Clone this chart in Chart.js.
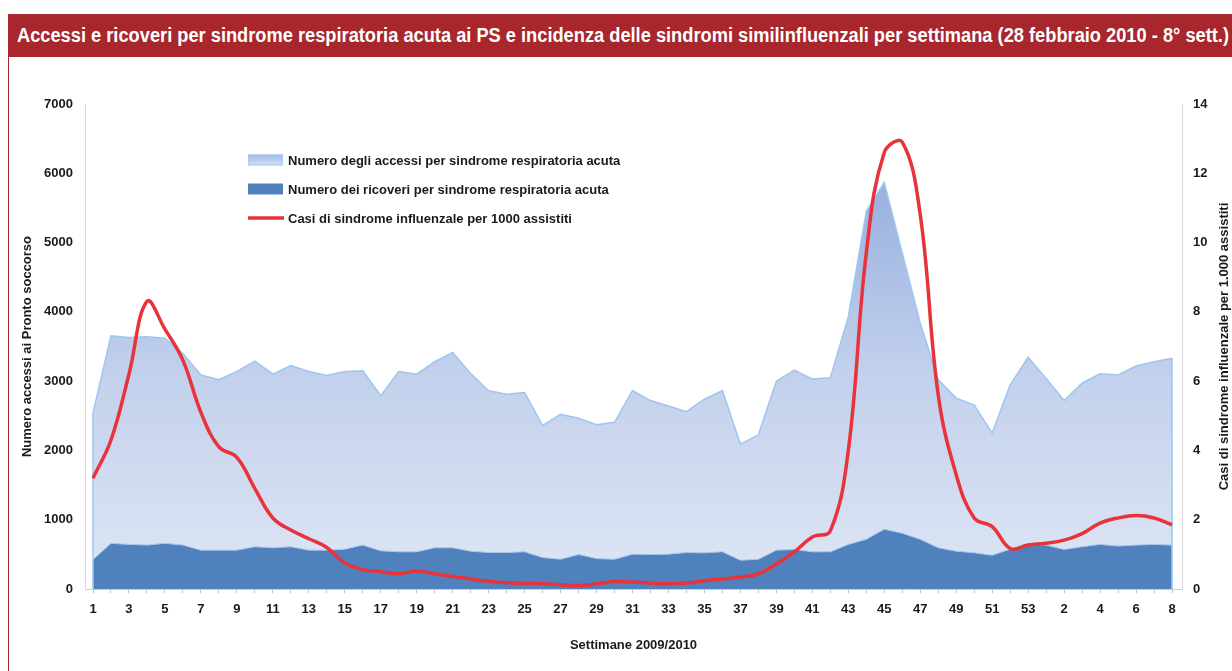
<!DOCTYPE html>
<html lang="it">
<head>
<meta charset="utf-8">
<title>Accessi e ricoveri per sindrome respiratoria acuta</title>
<script src="https://cdn.jsdelivr.net/npm/chart.js@4.4.1/dist/chart.umd.min.js"></script>
<style>
    html, body { margin: 0; padding: 0; background: #fff; }
    body { width: 1232px; height: 671px; position: relative; overflow: hidden; font-family: "Liberation Sans", Arial, sans-serif; }
    #titleBar { position: absolute; left: 8px; top: 14px; width: 1224px; height: 43px; background: #a8272d; overflow: hidden; }
    #titleBar span { position: absolute; left: 9px; top: 10px; white-space: nowrap; color: #fff; font: bold 20px "Liberation Sans Narrow", "Arial Narrow", "Liberation Sans", sans-serif; transform-origin: 0 0; }
    #frame { position: absolute; left: 8px; top: 57px; width: 1px; height: 614px; background: #a8272d; }
    #chartBox { position: absolute; left: 0; top: 57px; }
</style>
</head>
<body>
<div id="titleBar"><span>Accessi e ricoveri per sindrome respiratoria acuta ai PS e incidenza delle sindromi similinfluenzali per settimana (28 febbraio 2010 - 8° sett.)</span></div>
<div id="frame"></div>
<div id="chartBox"><canvas id="chart" width="1232" height="614"></canvas></div>
<script>
// settimane 2009 (1-53) e 2010 (1-8)
const weeks = [1, 2, 3, 4, 5, 6, 7, 8, 9, 10, 11, 12, 13, 14, 15, 16, 17, 18, 19, 20,
    21, 22, 23, 24, 25, 26, 27, 28, 29, 30, 31, 32, 33, 34, 35, 36, 37, 38, 39, 40,
    41, 42, 43, 44, 45, 46, 47, 48, 49, 50, 51, 52, 53, 1, 2, 3, 4, 5, 6, 7, 8];

const accessi = [2540, 3655, 3630, 3640, 3620, 3400, 3090, 3020, 3140, 3290,
    3100, 3225, 3140, 3080, 3140, 3150, 2790, 3140, 3100, 3280,
    3415, 3110, 2860, 2810, 2835, 2360, 2520, 2465, 2370, 2405,
    2865, 2720, 2640, 2560, 2740, 2865, 2090, 2225, 3000, 3160,
    3030, 3050, 3930, 5450, 5870, 4850, 3835, 3020, 2755, 2655,
    2250, 2945, 3345, 3040, 2720, 2970, 3105, 3090, 3220, 3280, 3330];

const ricoveri = [424, 659, 644, 634, 659, 634, 561, 561, 561, 610,
    595, 610, 561, 561, 575, 634, 551, 537, 537, 595,
    595, 546, 527, 527, 537, 454, 429, 498, 439, 429,
    502, 498, 502, 527, 522, 537, 415, 429, 561, 571,
    537, 537, 644, 717, 863, 805, 717, 595, 546, 522,
    488, 575, 644, 634, 571, 610, 644, 620, 634, 644, 634];

const casi = [3.2, 4.3, 6.2, 8.3, 7.5, 6.6, 5.1, 4.1, 3.8, 2.9,
    2.05, 1.7, 1.45, 1.2, 0.75, 0.56, 0.5, 0.44, 0.52, 0.44,
    0.36, 0.29, 0.22, 0.18, 0.16, 0.15, 0.12, 0.1, 0.15, 0.22,
    0.2, 0.17, 0.15, 0.17, 0.24, 0.29, 0.34, 0.44, 0.72, 1.07,
    1.5, 1.68, 4.0, 9.7, 12.6, 12.9, 10.8, 5.6, 3.3, 2.05,
    1.8, 1.17, 1.27, 1.32, 1.41, 1.6, 1.9, 2.05, 2.12, 2.05, 1.85];

const leftTicks = [0, 1000, 2000, 3000, 4000, 5000, 6000, 7000];
const rightTicks = [0, 2, 4, 6, 8, 10, 12, 14];

const LABELS = {
    accessi: 'Numero degli accessi per sindrome respiratoria acuta',
    ricoveri: 'Numero dei ricoveri per sindrome respiratoria acuta',
    casi: 'Casi di sindrome influenzale per 1000 assistiti'
};

// fit the narrow title into the bar
const titleSpan = document.querySelector('#titleBar span');
const tw = titleSpan.getBoundingClientRect().width;
if (tw > 0) titleSpan.style.transform = `scaleX(${1212 / tw})`;

const toXY = arr => arr.map((v, i) => ({ x: i, y: v }));

function accessiFill(ctx) {
    const { chart } = ctx;
    const area = chart.chartArea;
    if (!area) return '#c3d1ec';
    const g = chart.ctx.createLinearGradient(0, area.top, 0, area.bottom);
    g.addColorStop(0, '#86a3d9');
    g.addColorStop(0.55, '#c2d0ec');
    g.addColorStop(1, '#dfe7f5');
    return g;
}

// Excel draws the area outline down both ends; Chart.js doesn't
const areaEdges = {
    id: 'areaEdges',
    beforeDatasetDraw(chart, args) {
        if (args.index !== 1) return; // after accessi, before ricoveri
        const { x, y } = chart.scales;
        const ctx = chart.ctx;
        const last = accessi.length - 1;
        ctx.save();
        ctx.strokeStyle = '#9dc6f2';
        ctx.lineWidth = 1.5;
        ctx.beginPath();
        ctx.moveTo(x.getPixelForValue(0), y.getPixelForValue(0));
        ctx.lineTo(x.getPixelForValue(0), y.getPixelForValue(accessi[0]));
        ctx.moveTo(x.getPixelForValue(last), y.getPixelForValue(0));
        ctx.lineTo(x.getPixelForValue(last), y.getPixelForValue(accessi[last]));
        ctx.stroke();
        ctx.restore();
    }
};

// legend drawn inside the plot, like the original
const innerLegend = {
    id: 'innerLegend',
    afterDraw(chart) {
        const ctx = chart.ctx;
        const x = 248, rows = [103, 132, 161];
        ctx.save();
        // accessi swatch
        let g = ctx.createLinearGradient(0, rows[0] - 6, 0, rows[0] + 6);
        g.addColorStop(0, '#9fb7e3');
        g.addColorStop(1, '#d6e0f3');
        ctx.fillStyle = g;
        ctx.fillRect(x, rows[0] - 5.5, 35, 11);
        ctx.strokeStyle = '#a9cdf3';
        ctx.lineWidth = 1;
        ctx.strokeRect(x + 0.5, rows[0] - 5, 34, 10);
        // ricoveri swatch
        ctx.fillStyle = '#4f81bd';
        ctx.fillRect(x, rows[1] - 5.5, 35, 11);
        // casi swatch
        ctx.strokeStyle = '#e8333a';
        ctx.lineWidth = 3.5;
        ctx.beginPath();
        ctx.moveTo(x, rows[2]);
        ctx.lineTo(x + 36, rows[2]);
        ctx.stroke();

        ctx.fillStyle = '#1a1a1a';
        ctx.font = 'bold 13px "Liberation Sans", Arial, sans-serif';
        ctx.textBaseline = 'middle';
        ctx.textAlign = 'left';
        ctx.fillText(LABELS.accessi, x + 40, rows[0] + 1);
        ctx.fillText(LABELS.ricoveri, x + 40, rows[1] + 1);
        ctx.fillText(LABELS.casi, x + 40, rows[2] + 1);

        // right axis title, reading bottom to top
        const y1 = chart.scales.y1;
        ctx.translate(1224, (y1.top + y1.bottom) / 2);
        ctx.rotate(-Math.PI / 2);
        ctx.textAlign = 'center';
        ctx.fillText('Casi di sindrome influenzale per 1.000 assistiti', 0, 0);
        ctx.restore();
    }
};

Chart.defaults.font.family = '"Liberation Sans", Arial, sans-serif';
Chart.defaults.font.size = 13;
Chart.defaults.font.weight = 'bold';
Chart.defaults.color = '#1a1a1a';

new Chart(document.getElementById('chart'), {
    type: 'line',
    data: {
        datasets: [
            {
                label: LABELS.casi,
                data: toXY(casi),
                yAxisID: 'y1',
                borderColor: '#e8333a',
                borderWidth: 3.5,
                pointRadius: 0,
                tension: 0.4,
                fill: false,
                order: 0
            },
            {
                label: LABELS.ricoveri,
                data: toXY(ricoveri),
                yAxisID: 'y',
                borderColor: '#a9c8ef',
                borderWidth: 1,
                backgroundColor: '#4f81bd',
                pointRadius: 0,
                tension: 0,
                fill: 'origin',
                order: 1
            },
            {
                label: LABELS.accessi,
                data: toXY(accessi),
                yAxisID: 'y',
                borderColor: '#9dc6f2',
                borderWidth: 1.5,
                backgroundColor: accessiFill,
                pointRadius: 0,
                tension: 0,
                fill: 'origin',
                order: 2
            }
        ]
    },
    options: {
        responsive: false,
        animation: false,
        layout: { padding: { top: 47, left: 0, right: 0, bottom: 0 } },
        plugins: { legend: { display: false }, tooltip: { enabled: false } },
        scales: {
            x: {
                type: 'linear',
                min: -0.445,
                max: 60.555,
                afterFit: s => { s.height = 82; },
                afterBuildTicks: s => { s.ticks = weeks.map((w, i) => ({ value: i })); },
                grid: { drawOnChartArea: false, drawTicks: true, tickLength: 4, color: '#bfbfbf' },
                border: { display: true, color: '#d0d0d0' },
                ticks: {
                    autoSkip: false,
                    maxRotation: 0,
                    padding: 9,
                    callback: v => {
                        const i = Math.round(v);
                        return i % 2 === 0 ? String(weeks[i]) : '';
                    }
                },
                title: { display: true, text: 'Settimane 2009/2010', padding: { top: 0, bottom: 18 } }
            },
            y: {
                position: 'left',
                min: leftTicks[0],
                max: leftTicks[leftTicks.length - 1],
                afterFit: s => { s.width = 85; },
                afterBuildTicks: s => { s.ticks = leftTicks.map(v => ({ value: v })); },
                grid: { display: false, drawTicks: false },
                border: { display: true, color: '#d9d9d9' },
                ticks: { padding: 12, callback: v => String(v) },
                title: { display: true, text: 'Numero accessi ai Pronto soccorso', padding: { top: 20, bottom: 0 } }
            },
            y1: {
                position: 'right',
                min: rightTicks[0],
                max: rightTicks[rightTicks.length - 1],
                afterFit: s => { s.width = 50; },
                afterBuildTicks: s => { s.ticks = rightTicks.map(v => ({ value: v })); },
                grid: { display: false, drawTicks: false },
                border: { display: true, color: '#d9d9d9' },
                ticks: { padding: 11, callback: v => String(v) }
            }
        }
    },
    plugins: [areaEdges, innerLegend]
});
</script>
</body>
</html>
